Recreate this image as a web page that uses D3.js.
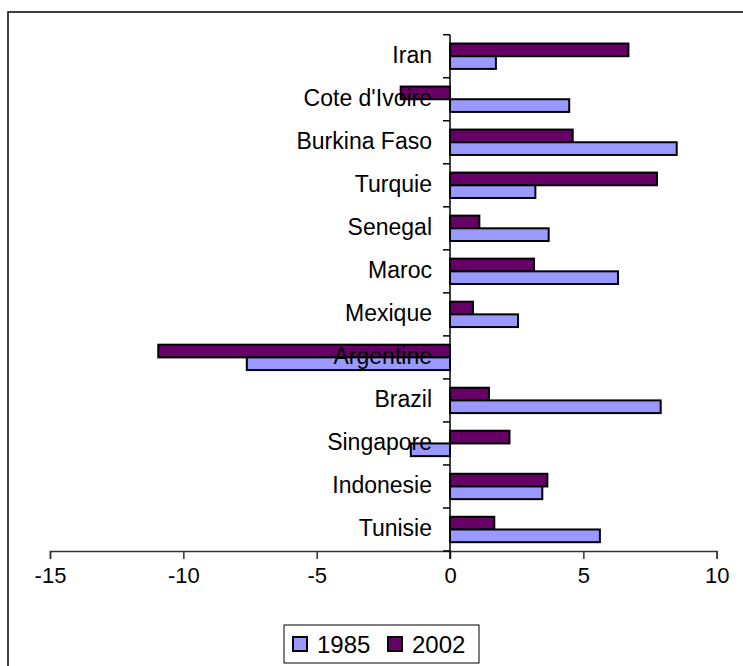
<!DOCTYPE html>
<html>
<head>
<meta charset="utf-8">
<script src="https://cdn.jsdelivr.net/npm/d3@7"></script>
<style>
  html, body { margin: 0; padding: 0; background: #fff; }
  svg { display: block; font-family: "Liberation Sans", Arial, sans-serif; }
</style>
</head>
<body>
<svg id="chart" width="743" height="666"></svg>
<script>
const categories = ["Iran", "Cote d'Ivoire", "Burkina Faso", "Turquie", "Senegal", "Maroc",
                    "Mexique", "Argentine", "Brazil", "Singapore", "Indonesie", "Tunisie"];
const seriesNames = ["1985", "2002"];
const values1985 = [1.72, 4.47, 8.5, 3.2, 3.7, 6.3, 2.55, -7.62, 7.9, -1.47, 3.46, 5.62];
const values2002 = [6.69, -1.85, 4.6, 7.76, 1.1, 3.15, 0.86, -10.94, 1.46, 2.23, 3.65, 1.66];
const xTicks = [-15, -10, -5, 0, 5, 10];
const colors = {"1985": "#9999FF", "2002": "#660066"};

const svg = d3.select("#chart");

// outer chart border
svg.append("rect").attr("x", 8).attr("y", 12).attr("width", 800).attr("height", 700)
  .attr("fill", "#fff").attr("stroke", "#000").attr("stroke-width", 1.5);

const x = d3.scaleLinear().domain([-15, 10]).range([50, 716.7]);
const y = d3.scaleBand().domain(categories).range([34.7, 551]).paddingInner(0).paddingOuter(0);
const bandInner = y.bandwidth() * 0.59;
const sub = d3.scaleBand().domain(["2002", "1985"])
  .range([(y.bandwidth() - bandInner) / 2, (y.bandwidth() + bandInner) / 2]);

const rows = categories.map((c, i) => ({cat: c, "1985": values1985[i], "2002": values2002[i]}));

const g = svg.append("g");
rows.forEach(r => {
  ["2002", "1985"].forEach(s => {
    const v = r[s];
    g.append("rect")
      .attr("x", x(Math.min(0, v)))
      .attr("y", y(r.cat) + sub(s))
      .attr("width", Math.abs(x(v) - x(0)))
      .attr("height", sub.bandwidth())
      .attr("fill", colors[s])
      .attr("stroke", "#000")
      .attr("stroke-width", 2);
  });
});

// x axis
const xAxis = d3.axisBottom(x).tickValues(xTicks).tickSize(8).tickPadding(8).tickFormat(d3.format("d"));
const xg = svg.append("g").attr("transform", `translate(0,551)`).call(xAxis);
xg.select(".domain").attr("stroke", "#333").attr("stroke-width", 1.5);
xg.selectAll(".tick line").attr("stroke", "#333").attr("stroke-width", 1.5);
xg.selectAll(".tick text").attr("font-size", 22).attr("fill", "#000")
  .attr("font-family", "'Liberation Sans', Arial, sans-serif").text(d => d < 0 ? "-" + Math.abs(d) : d);

// category axis at zero
svg.append("line").attr("x1", x(0)).attr("x2", x(0)).attr("y1", 34.7).attr("y2", 559)
  .attr("stroke", "#000").attr("stroke-width", 1.5);
const bounds = categories.map(c => y(c)).concat([y.range()[1]]);
svg.selectAll(".ctick").data(bounds).enter().append("line")
  .attr("x1", x(0) - 7).attr("x2", x(0)).attr("y1", d => d).attr("y2", d => d)
  .attr("stroke", "#000").attr("stroke-width", 1.5);

// category labels (drawn over bars)
svg.selectAll(".clabel").data(categories).enter().append("text")
  .attr("x", 432).attr("y", d => y(d) + y.bandwidth() / 2)
  .attr("dy", "0.28em").attr("text-anchor", "end")
  .attr("font-size", 23).attr("fill", "#000").text(d => d);

// legend
const lg = svg.append("g");
lg.append("rect").attr("x", 284).attr("y", 625).attr("width", 195).attr("height", 38)
  .attr("fill", "#fff").attr("stroke", "#000").attr("stroke-width", 1);
const legendX = [293, 388];
seriesNames.forEach((s, i) => {
  lg.append("rect").attr("x", legendX[i]).attr("y", 637).attr("width", 14).attr("height", 14)
    .attr("fill", colors[s]).attr("stroke", "#000").attr("stroke-width", 2);
  lg.append("text").attr("x", legendX[i] + 24).attr("y", 644).attr("dy", "0.36em")
    .attr("font-size", 24).attr("fill", "#000").text(s);
});
</script>
</body>
</html>
